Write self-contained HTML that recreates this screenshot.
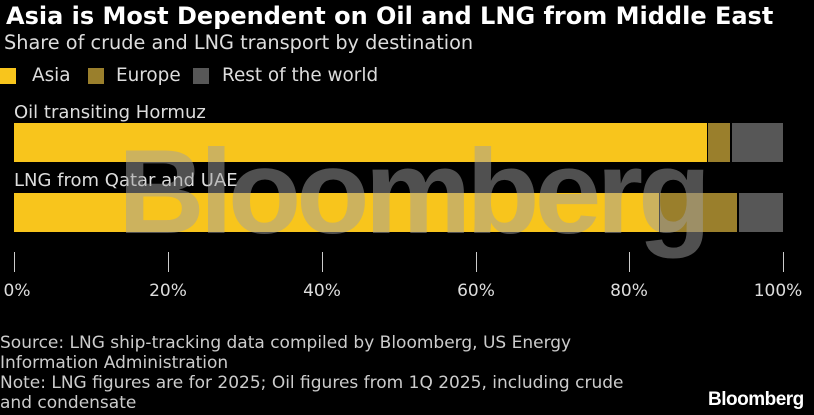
<!DOCTYPE html>
<html><head><style>
body{margin:0;width:814px;height:415px;background:#000;overflow:hidden;position:relative;font-family:"DejaVu Sans","Liberation Sans",sans-serif;color:#fff}
.a{position:absolute;white-space:nowrap}
.r{position:absolute}
.t{font-size:17px;color:#ddd}
</style></head><body>
<div class="a" style="left:6px;top:2px;font-size:24px;font-weight:bold;color:#fff">Asia is Most Dependent on Oil and LNG from Middle East</div>
<div class="a" style="left:4px;top:31px;font-size:19.3px;color:#ddd">Share of crude and LNG transport by destination</div>
<div class="r" style="left:0;top:68px;width:16px;height:16px;background:#f8c51c"></div>
<div class="a t" style="left:32px;top:65px;font-size:18.4px">Asia</div>
<div class="r" style="left:88px;top:68px;width:16px;height:16px;background:#9a7f2c"></div>
<div class="a t" style="left:116px;top:65px;font-size:18.4px">Europe</div>
<div class="r" style="left:193px;top:68px;width:16px;height:16px;background:#575757"></div>
<div class="a t" style="left:222px;top:65px;font-size:18.4px">Rest of the world</div>
<div class="a t" style="left:14px;top:102px;font-size:18px">Oil transiting Hormuz</div>
<div class="r" style="left:14px;top:123px;width:693px;height:39px;background:#f8c51c"></div>
<div class="r" style="left:708px;top:123px;width:22px;height:39px;background:#9a7f2c"></div>
<div class="r" style="left:732px;top:123px;width:51px;height:39px;background:#575757"></div>
<div class="a t" style="left:14px;top:170px;font-size:18px">LNG from Qatar and UAE</div>
<div class="r" style="left:14px;top:193px;width:645px;height:39px;background:#f8c51c"></div>
<div class="r" style="left:660px;top:193px;width:77px;height:39px;background:#9a7f2c"></div>
<div class="r" style="left:739px;top:193px;width:44px;height:39px;background:#575757"></div>
<div class="a" style="left:118px;top:123px;font-family:'Liberation Sans',sans-serif;font-size:120px;font-weight:bold;color:rgba(160,160,160,0.5);letter-spacing:-5px">Bloomberg</div>
<div class="r" style="left:14px;top:252px;width:1px;height:20px;background:#ccc"></div>
<div class="r" style="left:168px;top:252px;width:1px;height:20px;background:#ccc"></div>
<div class="r" style="left:322px;top:252px;width:1px;height:20px;background:#ccc"></div>
<div class="r" style="left:476px;top:252px;width:1px;height:20px;background:#ccc"></div>
<div class="r" style="left:629px;top:252px;width:1px;height:20px;background:#ccc"></div>
<div class="r" style="left:783px;top:252px;width:1px;height:20px;background:#ccc"></div>
<div class="a t" style="left:0px;top:281px;width:34px;text-align:center">0%</div>
<div class="a t" style="left:143px;top:281px;width:50px;text-align:center">20%</div>
<div class="a t" style="left:297px;top:281px;width:50px;text-align:center">40%</div>
<div class="a t" style="left:451px;top:281px;width:50px;text-align:center">60%</div>
<div class="a t" style="left:604px;top:281px;width:50px;text-align:center">80%</div>
<div class="a t" style="left:748px;top:281px;width:60px;text-align:center">100%</div>
<div class="a t" style="left:0;top:333px;line-height:20px;font-size:17px;color:#ccc">Source: LNG ship-tracking data compiled by Bloomberg, US Energy<br>Information Administration<br>Note: LNG figures are for 2025; Oil figures from 1Q 2025, including crude<br>and condensate</div>
<div class="a" style="left:708px;top:389px;font-family:'Liberation Sans',sans-serif;font-size:19px;font-weight:bold;color:#fff;letter-spacing:-0.5px">Bloomberg</div>
</body></html>
